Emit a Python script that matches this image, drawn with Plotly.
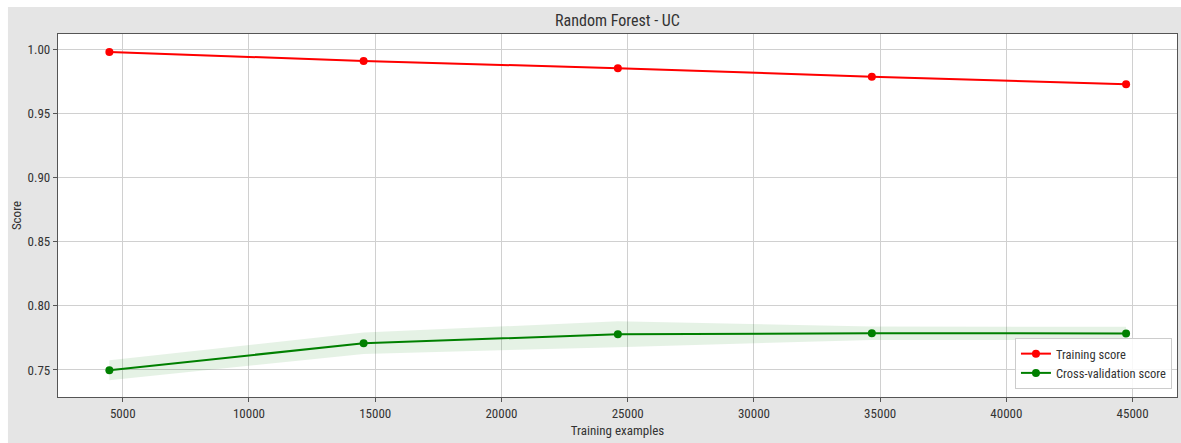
import plotly.graph_objects as go

train_sizes = [4470, 14540, 24610, 34670, 44740]
train_mean = [0.9979, 0.9909, 0.9852, 0.9786, 0.9728]
train_std = [0.0007, 0.0006, 0.0006, 0.0006, 0.0006]
cv_mean = [0.7498, 0.7708, 0.7778, 0.7786, 0.7785]
cv_std = [0.0078, 0.0083, 0.0101, 0.0052, 0.0052]

x_ticks = [5000, 10000, 15000, 20000, 25000, 30000, 35000, 40000, 45000]
y_ticks = [0.75, 0.80, 0.85, 0.90, 0.95, 1.00]

FONT = "Liberation Sans Narrow, Arial Narrow, Roboto Condensed, Roboto, sans-serif"

fig = go.Figure()

# Training band
fig.add_trace(go.Scatter(x=train_sizes, y=[m + s for m, s in zip(train_mean, train_std)],
                         mode="lines", line=dict(width=0), showlegend=False, hoverinfo="skip"))
fig.add_trace(go.Scatter(x=train_sizes, y=[m - s for m, s in zip(train_mean, train_std)],
                         mode="lines", line=dict(width=0), fill="tonexty",
                         fillcolor="rgba(255,0,0,0.1)", showlegend=False, hoverinfo="skip"))
# CV band
fig.add_trace(go.Scatter(x=train_sizes, y=[m + s for m, s in zip(cv_mean, cv_std)],
                         mode="lines", line=dict(width=0), showlegend=False, hoverinfo="skip"))
fig.add_trace(go.Scatter(x=train_sizes, y=[m - s for m, s in zip(cv_mean, cv_std)],
                         mode="lines", line=dict(width=0), fill="tonexty",
                         fillcolor="rgba(0,128,0,0.1)", showlegend=False, hoverinfo="skip"))

fig.add_trace(go.Scatter(x=train_sizes, y=train_mean, mode="lines+markers", name="Training score",
                         line=dict(color="red", width=2), marker=dict(color="red", size=8)))
fig.add_trace(go.Scatter(x=train_sizes, y=cv_mean, mode="lines+markers", name="Cross-validation score",
                         line=dict(color="green", width=2), marker=dict(color="green", size=8)))

axis_common = dict(showline=True, mirror=True, linecolor="#555555", linewidth=1.3,
                   ticks="outside", ticklen=4, tickcolor="#555555",
                   showgrid=True, gridcolor="#d0d0d0", gridwidth=1, zeroline=False,
                   tickfont=dict(family=FONT, size=13, color="#333333"), automargin=False)

fig.update_xaxes(range=[2435, 46757], tickvals=x_ticks, ticktext=[str(v) for v in x_ticks],
                 title=dict(text="Training examples", font=dict(family=FONT, size=13, color="#333333"),
                            standoff=6),
                 **axis_common)
fig.update_yaxes(range=[0.7289, 1.0119], tickvals=y_ticks, ticktext=[f"{v:.2f}" for v in y_ticks],
                 title=dict(text="Score", font=dict(family=FONT, size=13, color="#333333"),
                            standoff=3),
                 **axis_common)

fig.update_layout(
    width=1181, height=443,
    margin=dict(l=58, r=4, t=34, b=46),
    paper_bgcolor="#e5e5e5", plot_bgcolor="white",
    title=dict(text="Random Forest - UC", x=0.5, xref="paper", xanchor="center",
               y=1 - 20.5 / 443, yanchor="middle",
               font=dict(family=FONT, size=16, color="#333333")),
    legend=dict(x=0.9955, y=0.022, xanchor="right", yanchor="bottom", traceorder="normal",
                bgcolor="rgba(255,255,255,0.85)", bordercolor="#cccccc", borderwidth=1,
                font=dict(family=FONT, size=12.5, color="#333333"),
                tracegroupgap=0, itemwidth=30),
    showlegend=True,
    shapes=[
        dict(type="rect", xref="paper", yref="paper", x0=-0.06, x1=1.01,
             y0=(397 - 7) / 363, y1=(397 + 2) / 363 + 0.05, fillcolor="white", line=dict(width=0),
             layer="below"),
        dict(type="rect", xref="paper", yref="paper", x0=-0.06, x1=(8 - 58) / 1118,
             y0=-0.2, y1=1.2, fillcolor="white", line=dict(width=0), layer="below"),
    ],
)

fig.write_html("out.html")
